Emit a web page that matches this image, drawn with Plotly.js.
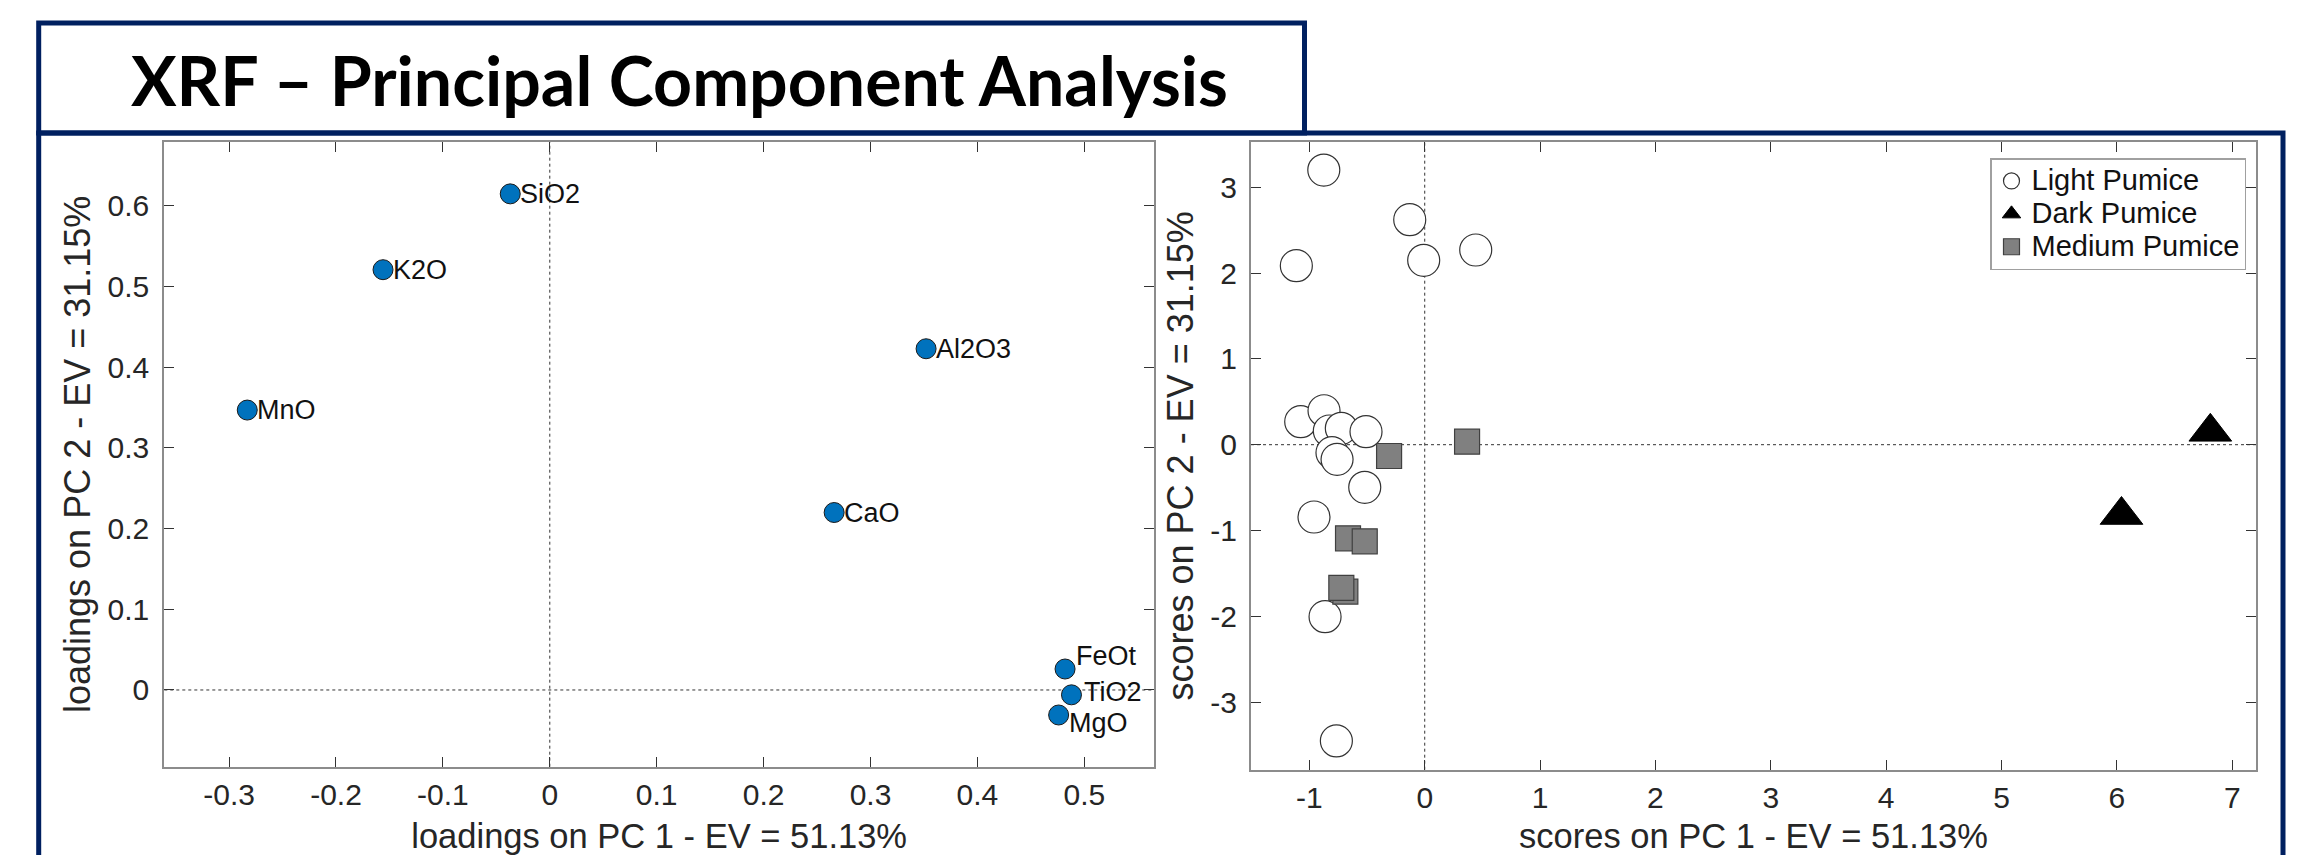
<!DOCTYPE html>
<html>
<head>
<meta charset="utf-8">
<script src="https://cdn.plot.ly/plotly-3.0.1.min.js"></script>
<style>
html,body{margin:0;padding:0;background:#fff;}
#chart{width:2312px;height:855px;}
</style>
</head>
<body>
<div id="chart"></div>
<script>
// ---------------- DATA ----------------
const chartTitle = 'XRF – Principal Component Analysis';

// Loadings (left panel)
const variables = ['SiO2', 'K2O', 'MnO', 'Al2O3', 'CaO', 'FeOt', 'TiO2', 'MgO'];
const loadingsPC1 = [-0.037, -0.156, -0.283, 0.352, 0.266, 0.482, 0.488, 0.476];
const loadingsPC2 = [0.615, 0.521, 0.347, 0.423, 0.220, 0.026, -0.006, -0.031];

// Scores (right panel)
const lightPC1 = [-1.075, -0.873, -0.875, -0.130, -1.113, -0.009, 0.442, -0.827, -0.723, -0.509, -0.804, -0.760, -0.520, -0.960, -0.864, -0.766];
const lightPC2 = [0.268, 0.396, 3.202, 2.623, 2.087, 2.150, 2.270, 0.160, 0.191, 0.152, -0.093, -0.171, -0.497, -0.843, -2.005, -3.454];
const darkPC1 = [6.04, 6.81];
const darkPC2 = [-0.82, 0.15];
const mediumPC1 = [-0.309, 0.367, -0.665, -0.520, -0.688, -0.723];
const mediumPC2 = [-0.132, 0.035, -1.091, -1.126, -1.713, -1.670];

const seriesNames = ['Light Pumice', 'Dark Pumice', 'Medium Pumice'];

// Axis titles and ticks
const loadXTitle = 'loadings on PC 1 - EV = 51.13%';
const loadYTitle = 'loadings on PC 2 - EV = 31.15%';
const scoreXTitle = 'scores on PC 1 - EV = 51.13%';
const scoreYTitle = 'scores on PC 2 - EV = 31.15%';
const loadXTicks = [-0.3, -0.2, -0.1, 0, 0.1, 0.2, 0.3, 0.4, 0.5];
const loadXTickText = ['-0.3', '-0.2', '-0.1', '0', '0.1', '0.2', '0.3', '0.4', '0.5'];
const loadYTicks = [0, 0.1, 0.2, 0.3, 0.4, 0.5, 0.6];
const loadYTickText = ['0', '0.1', '0.2', '0.3', '0.4', '0.5', '0.6'];
const scoreXTicks = [-1, 0, 1, 2, 3, 4, 5, 6, 7];
const scoreXTickText = ['-1', '0', '1', '2', '3', '4', '5', '6', '7'];
const scoreYTicks = [-3, -2, -1, 0, 1, 2, 3];
const scoreYTickText = ['-3', '-2', '-1', '0', '1', '2', '3'];

// ---------------- STYLE ----------------
const W = 2312, H = 855;
const px = v => v / W;
const py = v => 1 - v / H;
const FONT = 'Liberation Sans, Arial, Helvetica, sans-serif';
const NAVY = '#002060';
const TXT = '#262626';
const labelOffsets = { FeOt: [9, 13], TiO2: [11, 3], MgO: [8, -8] };
const legendTextSize = 29;

const axisBase = {
  showgrid: false, zeroline: false, showline: true,
  linecolor: '#8c8c8c', linewidth: 2, mirror: 'ticks',
  ticks: 'inside', ticklen: 10, tickwidth: 1, tickcolor: '#333',
  tickmode: 'array',
  tickfont: { family: FONT, size: 30, color: TXT }
};
const xTitleFont = { family: FONT, size: 34.5, color: TXT };
const yTitleFont = { family: FONT, size: 36, color: TXT };

const legendName = s => '<span style="font-size:' + legendTextSize + 'px">' + s + '</span>';

const traces = [
  {
    x: loadingsPC1, y: loadingsPC2, xaxis: 'x', yaxis: 'y', type: 'scatter', mode: 'markers',
    showlegend: false, hoverinfo: 'text', text: variables,
    marker: { symbol: 'circle', size: 20, color: '#0072BD', line: { color: '#1a1a1a', width: 1 } }
  },
  {
    x: lightPC1, y: lightPC2, xaxis: 'x2', yaxis: 'y2', type: 'scatter', mode: 'markers',
    name: legendName(seriesNames[0]),
    marker: { symbol: 'circle', size: 32, color: '#ffffff', line: { color: '#333333', width: 1.2 } }
  },
  {
    x: darkPC1, y: darkPC2, xaxis: 'x2', yaxis: 'y2', type: 'scatter', mode: 'markers',
    name: legendName(seriesNames[1]),
    marker: { symbol: 'triangle-up', size: 37, color: '#000000', line: { color: '#000000', width: 1 } }
  },
  {
    x: mediumPC1, y: mediumPC2, xaxis: 'x2', yaxis: 'y2', type: 'scatter', mode: 'markers',
    name: legendName(seriesNames[2]),
    marker: { symbol: 'square', size: 25, color: '#808080', line: { color: '#404040', width: 1.2 } }
  }
];

const labelAnnotations = variables.map((v, i) => {
  const off = labelOffsets[v] || [8, 0];
  return {
    xref: 'x', yref: 'y', x: loadingsPC1[i], y: loadingsPC2[i], text: v,
    showarrow: false, xanchor: 'left', yanchor: 'middle',
    xshift: off[0], yshift: off[1],
    font: { family: FONT, size: 27, color: '#111' }
  };
});

const zeroLine = { color: '#333', width: 1, dash: 'dot' };

const layout = {
  width: W, height: H,
  margin: { l: 0, r: 0, t: 0, b: 0, pad: 0 },
  paper_bgcolor: '#ffffff', plot_bgcolor: '#ffffff',
  showlegend: true,
  xaxis: Object.assign({}, axisBase, {
    domain: [px(164.3), px(1154)], range: [-0.3606, 0.5652], anchor: 'y',
    tickvals: loadXTicks, ticktext: loadXTickText,
    title: { text: loadXTitle, font: xTitleFont, standoff: 14 }
  }),
  yaxis: Object.assign({}, axisBase, {
    domain: [py(766.7), py(142)], range: [-0.0951, 0.6793], anchor: 'x',
    tickvals: loadYTicks, ticktext: loadYTickText, ticklabelstandoff: 7,
    title: { text: loadYTitle, font: yTitleFont, standoff: 6 }
  }),
  xaxis2: Object.assign({}, axisBase, {
    domain: [px(1251), px(2256)], range: [-1.506, 7.206], anchor: 'y2',
    tickvals: scoreXTicks, ticktext: scoreXTickText,
    title: { text: scoreXTitle, font: xTitleFont, standoff: 14 }
  }),
  yaxis2: Object.assign({}, axisBase, {
    domain: [py(769.7), py(142)], range: [-3.789, 3.529], anchor: 'x2',
    tickvals: scoreYTicks, ticktext: scoreYTickText, ticklabelstandoff: 6,
    title: { text: scoreYTitle, font: yTitleFont, standoff: 6 }
  }),
  legend: {
    x: px(1990), y: py(158), xanchor: 'left', yanchor: 'top',
    bgcolor: '#ffffff', bordercolor: '#a0a0a0', borderwidth: 1.5,
    font: { family: FONT, size: 23, color: '#111' },
    tracegroupgap: 0, itemwidth: 30
  },
  shapes: [
    // zero reference lines
    { type: 'line', xref: 'x', yref: 'y domain', x0: 0, x1: 0, y0: 0, y1: 1, line: zeroLine, layer: 'below' },
    { type: 'line', xref: 'x domain', yref: 'y', x0: 0, x1: 1, y0: 0, y1: 0, line: zeroLine, layer: 'below' },
    { type: 'line', xref: 'x2', yref: 'y2 domain', x0: 0, x1: 0, y0: 0, y1: 1, line: zeroLine, layer: 'below' },
    { type: 'line', xref: 'x2 domain', yref: 'y2', x0: 0, x1: 1, y0: 0, y1: 0, line: zeroLine, layer: 'below' },
    // decorative frames
    { type: 'rect', xref: 'paper', yref: 'paper', x0: px(38.7), x1: px(2283), y0: py(880), y1: py(133),
      line: { color: NAVY, width: 5 }, fillcolor: 'rgba(0,0,0,0)' },
    { type: 'rect', xref: 'paper', yref: 'paper', x0: px(38.7), x1: px(1304.5), y0: py(133), y1: py(23),
      line: { color: NAVY, width: 5 }, fillcolor: 'rgba(0,0,0,0)' }
  ],
  annotations: [
    {
      xref: 'paper', yref: 'paper', x: px(679.5), y: py(79), xanchor: 'center', yanchor: 'middle',
      text: chartTitle, showarrow: false,
      font: { family: 'Lato, Open Sans, sans-serif', size: 68, color: '#000', weight: 'bold' }
    }
  ].concat(labelAnnotations)
};

Plotly.newPlot('chart', traces, layout, { displayModeBar: false, staticPlot: true });
</script>
</body>
</html>
